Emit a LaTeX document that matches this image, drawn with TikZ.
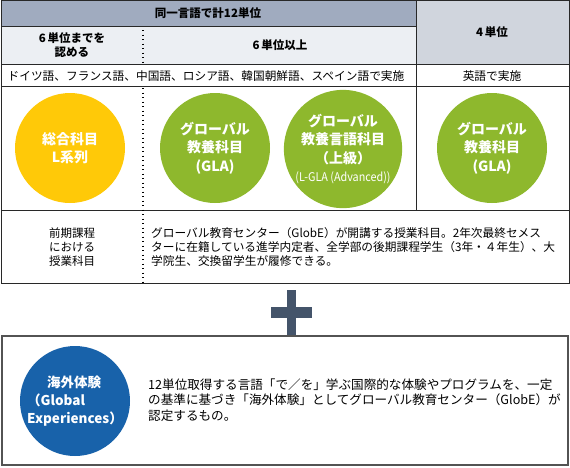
\documentclass[tikz,border=0pt]{standalone}
\usepackage{fontspec}
\setmainfont{Noto Sans CJK JP}
\usepackage{tikz}
\usetikzlibrary{positioning}
\definecolor{cHeadA}{RGB}{160,171,191}
\definecolor{cHeadB}{RGB}{236,239,243}
\definecolor{cHeadC}{RGB}{208,213,221}
\definecolor{cYellow}{RGB}{255,201,8}
\definecolor{cGreen}{RGB}{142,184,45}
\definecolor{cBlue}{RGB}{24,98,170}
\definecolor{cPlus}{RGB}{68,84,106}
\definecolor{cFrame}{RGB}{40,40,40}
\tikzset{
	course/.style  ={circle, minimum size=110pt, inner sep=0pt, align=center, text=white, font=\fontsize{14}{18.5}\selectfont\bfseries},
	hdr/.style     ={align=center, inner sep=0pt, font=\fontsize{11.5}{14}\selectfont\bfseries},
	cell/.style    ={align=center, inner sep=0pt, font=\fontsize{11.7}{14}\selectfont},
	note/.style    ={align=left, inner sep=0pt, font=\fontsize{11.7}{14}\selectfont},
	gridline/.style={draw=cFrame, line width=0.8pt},
	dotline/.style ={line width=1.2pt, dash pattern=on 1.2pt off 3.3pt},
}

\begin{document}
\begin{tikzpicture}[x=1pt, y=-1pt]
	\useasboundingbox (0,0) rectangle (570,467);
	% table heads
	\fill[cHeadA] (1,0) rectangle (416,26);
	\fill[cHeadB] (1,26) rectangle (416,64);
	\fill[cHeadC] (416,0) rectangle (569,64);
	\draw[gridline] (1,0) rectangle (569,283);
	\draw[gridline] (1,26) -- (416,26);
	\draw[gridline] (1,64) -- (569,64);
	\draw[gridline] (1,86) -- (569,86);
	\draw[gridline] (1,210) -- (569,210);
	\draw[gridline] (416,0) -- (416,210);
	\draw[dotline] (143,30) -- (143,64);
	\draw[dotline] (143,88) -- (143,283);
	\node[hdr] (same) at (208,13) {同一言語で計12単位};
	\node[hdr] (upto) at (72,45) {6\,単位までを\\認める};
	\node[hdr] (over) at (280,45) {6\,単位以上};
	\node[hdr] (four) at (492,32) {4\,単位};
	\node[cell] (langs) at (206,76) {ドイツ語、フランス語、中国語、ロシア語、韓国朝鮮語、スペイン語で実施};
	\node[cell] (eng) at (492,76) {英語で実施};
	% courses
	\node[course, fill=cYellow] (sogo) at (70,148) {総合科目\\L系列};
	\node[course, fill=cGreen] (gla) at (215,148) {グローバル\\教養科目\\(GLA)};
	\node[course, fill=cGreen] (lgla) at (343,149) {グローバル\\教養言語科目\\（上級）\\{\fontsize{12}{13}\selectfont\mdseries\scalebox{0.9}[1]{(L-GLA (Advanced))}}};
	\node[course, fill=cGreen] (gla2) at (492,148) {グローバル\\教養科目\\(GLA)};
	\node[cell, font=\fontsize{11.5}{14}\selectfont] (early) at (72,247) {前期課程\\における\\授業科目};
	\node[note, anchor=west] (globe) at (151,247) {グローバル教育センター（GlobE）が開講する授業科目。2年次最終セメス\\ターに在籍している進学内定者、全学部の後期課程学生（3年・４年生）、大\\学院生、交換留学生が履修できる。};
	% plus
	\fill[cPlus] (271,307) rectangle (312,318);
	\fill[cPlus] (287,290) rectangle (296,335);
	% experiences
	\draw[draw=cFrame!80, line width=1.8pt] (2,336) rectangle (568,465);
	\node[course, fill=cBlue, align=left, font=\fontsize{13.5}{18}\selectfont\bfseries] (kaigai) at (75,401) {\hspace*{20pt}海外体験\\（Global\\Experiences）};
	\node[note, anchor=west, font=\fontsize{12.6}{15.5}\selectfont] (desc) at (148,400) {12単位取得する言語「で／を」学ぶ国際的な体験やプログラムを、一定\\の基準に基づき「海外体験」としてグローバル教育センター（GlobE）が\\認定するもの。};
\end{tikzpicture}
\end{document}
